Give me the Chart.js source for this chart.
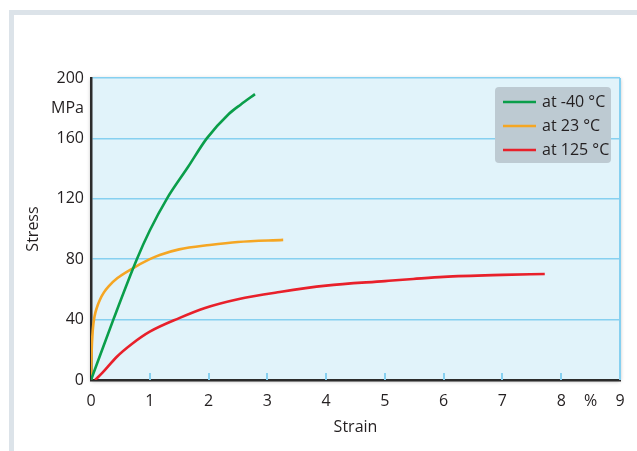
<!DOCTYPE html>
<html>
<head>
<meta charset="utf-8">
<script src="https://cdn.jsdelivr.net/npm/chart.js@4/dist/chart.umd.min.js"></script>
<style>
html,body{margin:0;padding:0;background:#fff;}
#wrap{position:relative;width:637px;height:451px;}
canvas{display:block;}
</style>
</head>
<body>
<div id="wrap"><canvas id="c" width="637" height="451"></canvas></div>
<script>
// ---- data ----
const seriesLabels = ['at -40 °C', 'at 23 °C', 'at 125 °C'];
const seriesColors = ['#0a9e4a', '#f5a623', '#e8202a'];

const strainGreen = [0, 0.38, 0.78, 1.0, 1.29, 1.65, 1.97, 2.34, 2.55, 2.79];
const stressGreen = [0, 40, 80, 99, 120, 141, 160, 176, 182.5, 189.3];

const strainOrange = [0, 0.01, 0.03, 0.06, 0.1, 0.15, 0.22, 0.3, 0.45, 0.69, 1.0, 1.17, 1.5, 2.02, 2.5, 3.27];
const stressOrange = [0, 18, 33, 42, 48, 53, 58, 62, 67.5, 73.5, 80, 82.8, 86.5, 89.4, 91.4, 92.8];

const strainRed = [0.07, 0.2, 0.44, 0.7, 1.0, 1.5, 1.94, 2.5, 3.21, 4, 5, 5.48, 6, 7, 7.72];
const stressRed = [0, 5, 15.4, 24, 32, 41, 47.7, 53.5, 58.3, 62.5, 65.5, 66.9, 68.3, 69.6, 70.2];

const xTickValues = [0, 1, 2, 3, 4, 5, 6, 7, 8, 8.5, 9];
const xTickLabels = ['0', '1', '2', '3', '4', '5', '6', '7', '8', '%', '9'];
const yTickValues = [0, 40, 80, 120, 160, 180, 200];
const yTickLabels = ['0', '40', '80', '120', '160', 'MPa', '200'];
const xMinorMarks = [1, 2, 3, 4, 5, 6, 7, 8];

const xTitle = 'Strain';
const yTitle = 'Stress';

function pts(xs, ys) { return xs.map((x, i) => ({ x: x, y: ys[i] })); }

const FONT = "'Open Sans', 'Noto Sans', sans-serif";
const TEXT = '#231f20';
const GRID = '#86d0f0';

const framePlugin = {
  id: 'frame',
  beforeDraw(chart) {
    const ctx = chart.ctx, a = chart.chartArea;
    ctx.save();
    ctx.fillStyle = '#dce3e9';
    ctx.fillRect(9, 10, 628, 5);
    ctx.fillRect(9, 10, 5, 441);
    ctx.shadowColor = 'rgba(0,0,0,0.35)';
    ctx.shadowBlur = 4;
    ctx.shadowOffsetX = 0;
    ctx.shadowOffsetY = 1;
    ctx.fillStyle = '#e1f3fa';
    ctx.fillRect(a.left, a.top, a.right - a.left, a.bottom - a.top);
    ctx.restore();
  },
  beforeDatasetsDraw(chart) {
    const ctx = chart.ctx, a = chart.chartArea, xs = chart.scales.x;
    ctx.save();
    ctx.strokeStyle = GRID;
    ctx.lineWidth = 2;
    xMinorMarks.forEach(v => {
      const px = Math.round(xs.getPixelForValue(v));
      ctx.beginPath();
      ctx.moveTo(px, a.bottom);
      ctx.lineTo(px, a.bottom - 7);
      ctx.stroke();
    });
    ctx.beginPath();
    ctx.moveTo(a.right, a.top);
    ctx.lineTo(a.right, a.bottom);
    ctx.stroke();
    ctx.restore();
  },
  afterDraw(chart) {
    const ctx = chart.ctx;
    const bx = 495, by = 87, bw = 116, bh = 76;
    ctx.save();
    ctx.fillStyle = '#bdcad2';
    ctx.beginPath();
    ctx.roundRect(bx, by, bw, bh, 4);
    ctx.fill();
    ctx.font = '16px ' + FONT;
    ctx.textBaseline = 'middle';
    ctx.fillStyle = TEXT;
    chart.data.datasets.forEach((ds, i) => {
      const y = by + 15 + i * 24;
      ctx.strokeStyle = ds.borderColor;
      ctx.lineWidth = 2.5;
      ctx.beginPath();
      ctx.moveTo(bx + 8, y);
      ctx.lineTo(bx + 41, y);
      ctx.stroke();
      ctx.fillText(ds.label, bx + 47, y);
    });
    ctx.restore();
  }
};

new Chart(document.getElementById('c'), {
  type: 'scatter',
  data: {
    datasets: [
      { label: seriesLabels[0], data: pts(strainGreen, stressGreen), borderColor: seriesColors[0] },
      { label: seriesLabels[1], data: pts(strainOrange, stressOrange), borderColor: seriesColors[1] },
      { label: seriesLabels[2], data: pts(strainRed, stressRed), borderColor: seriesColors[2] }
    ].map(d => Object.assign(d, {
      showLine: true, pointRadius: 0, borderWidth: 2.6, fill: false,
      cubicInterpolationMode: 'monotone', backgroundColor: d.borderColor
    }))
  },
  options: {
    responsive: false,
    animation: false,
    events: [],
    layout: { padding: { left: 0, right: 17, top: 78, bottom: 0 } },
    plugins: { legend: { display: false }, tooltip: { enabled: false } },
    scales: {
      x: {
        type: 'linear', min: 0, max: 9,
        afterFit(s) { s.height = 71; },
        afterBuildTicks(s) { s.ticks = xTickValues.map(v => ({ value: v })); },
        grid: { display: false, drawTicks: false },
        border: { display: true, color: '#2b2b2b', width: 2.5 },
        ticks: {
          autoSkip: false, maxRotation: 0, padding: 12, color: TEXT,
          font: { family: FONT, size: 16 },
          callback: (v) => xTickLabels[xTickValues.indexOf(v)]
        },
        title: { display: true, text: xTitle, color: TEXT, font: { family: FONT, size: 16 }, padding: { top: 0, bottom: 14 } }
      },
      y: {
        type: 'linear', min: 0, max: 200,
        afterFit(s) { s.width = 91; },
        afterBuildTicks(s) { s.ticks = yTickValues.map(v => ({ value: v })); },
        grid: {
          drawTicks: false, lineWidth: 1.5,
          color: (c) => (c.tick && (c.tick.value === 0 || c.tick.value === 180)) ? 'rgba(0,0,0,0)' : GRID
        },
        border: { display: true, color: '#2b2b2b', width: 2.5 },
        ticks: {
          autoSkip: false, padding: 7, color: TEXT,
          font: { family: FONT, size: 16 },
          callback: (v) => yTickLabels[yTickValues.indexOf(v)]
        },
        title: { display: true, text: yTitle, color: TEXT, font: { family: FONT, size: 16 }, padding: { top: 24, bottom: 0 } }
      }
    }
  },
  plugins: [framePlugin]
});
</script>
</body>
</html>
